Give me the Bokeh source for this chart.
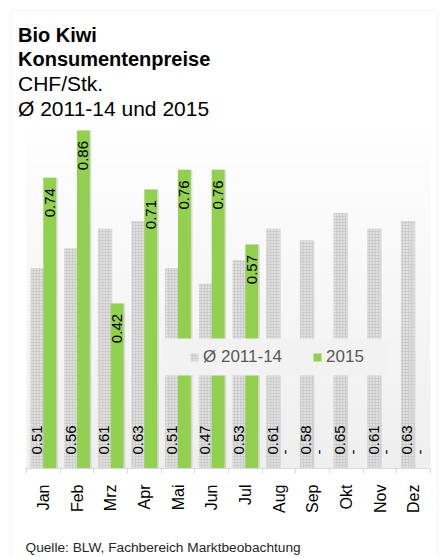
import numpy as np
from bokeh.plotting import figure
from bokeh.models import (ColumnDataSource, Range1d, FixedTicker, Label,
                          BoxAnnotation, Legend, LegendItem)
from bokeh.transform import dodge
from bokeh.core.properties import value
from bokeh.embed import file_html
from bokeh.resources import INLINE

# ---------------- data ----------------
months = ["Jan", "Feb", "Mrz", "Apr", "Mai", "Jun", "Jul", "Aug", "Sep", "Okt", "Nov", "Dez"]
avg_2011_14 = [0.51, 0.56, 0.61, 0.63, 0.51, 0.47, 0.53, 0.61, 0.58, 0.65, 0.61, 0.63]
prices_2015 = [0.74, 0.86, 0.42, 0.71, 0.76, 0.76, 0.57, None, None, None, None, None]
series_names = ["Ø 2011-14", "2015"]
title_lines = ["Bio Kiwi", "Konsumentenpreise", "CHF/Stk.", "Ø 2011-14 und 2015"]
source_note = "Quelle: BLW, Fachbereich Marktbeobachtung"

# ---------------- layout / styling ----------------
FONT = "Liberation Sans"
W, H = 441, 557
AX_LEFT, AX_RIGHT, AX_Y = 26, 430, 468       # pixel position of the category axis
PX_PER_UNIT = 393.0                           # vertical pixels per CHF
Y_TOP = 0.88                                  # top of plot area (CHF)
GREEN = "#92d050"
GRAY = "#cccccc"
OFF = 0.19
BW = 0.38

ncat = len(months)
px_per_cat = (AX_RIGHT - AX_LEFT) / ncat
x_start = -AX_LEFT / px_per_cat
x_end = ncat + (W - AX_RIGHT) / px_per_cat
y_start = -(H - AX_Y) / PX_PER_UNIT
y_end = AX_Y / PX_PER_UNIT

xs = [i + 0.5 for i in range(ncat)]
p15 = [np.nan if v is None else v for v in prices_2015]

src = ColumnDataSource(dict(
    x=xs, avg=avg_2011_14, p15=p15,
    avg_lbl=[f"{v:.2f}" for v in avg_2011_14],
))
top_src = ColumnDataSource(dict(
    x=[x for x, v in zip(xs, prices_2015) if v is not None],
    top=[v for v in prices_2015 if v is not None],
    lbl=[f"{v:.2f}" for v in prices_2015 if v is not None],
))
miss_src = ColumnDataSource(dict(
    x=[x for x, v in zip(xs, prices_2015) if v is None],
    lbl=["-" for v in prices_2015 if v is None],
))

p = figure(width=W, height=H, x_range=Range1d(x_start, x_end), y_range=Range1d(y_start, y_end),
           output_backend="svg", toolbar_location=None, y_axis_location=None,
           min_border=0, background_fill_color="white", border_fill_color="white",
           outline_line_color=None, title=None)
p.xgrid.visible = False
p.ygrid.visible = False

# plot-area gradient (white at top -> light gray at bottom)
n = 64
img = np.empty((n, 1), dtype=np.uint32)
view = img.view(dtype=np.uint8).reshape((n, 1, 4))
vals = np.linspace(239, 255, n).astype(np.uint8)
view[:, 0, 0] = vals
view[:, 0, 1] = vals
view[:, 0, 2] = vals
view[:, 0, 3] = 255
p.image_rgba(image=[img], x=0, y=0, dw=ncat, dh=Y_TOP)

# shadows
p.vbar(x=dodge("x", -OFF + 0.05), top="avg", width=BW, source=src,
       fill_color="black", fill_alpha=0.12, line_color=None)
p.vbar(x=dodge("x", OFF + 0.05), top="p15", width=BW, source=src,
       fill_color="black", fill_alpha=0.12, line_color=None)

gray_r = p.vbar(x=dodge("x", -OFF), top="avg", width=BW, source=src,
                fill_color=GRAY, line_color=None,
                hatch_pattern="dot", hatch_color="white", hatch_scale=3, hatch_weight=1)
green_r = p.vbar(x=dodge("x", OFF), top="p15", width=BW, source=src,
                 fill_color=GREEN, line_color=None)

# value labels
common = dict(angle=np.pi / 2, text_baseline="middle", text_font=value(FONT),
              text_font_size="15px", text_color="black")
p.text(x=dodge("x", -OFF), y=0, text="avg_lbl", source=src, text_align="left",
       y_offset=-14, **common)
p.text(x=dodge("x", OFF), y="top", text="lbl", source=top_src, text_align="right",
       y_offset=10.5, **common)
p.text(x=dodge("x", OFF), y=0, text="lbl", source=miss_src, text_align="left",
       y_offset=-14, **common)

# x axis, drawn at y = 0 inside the frame
ax = p.xaxis[0]
ax.fixed_location = 0
ax.bounds = (0, ncat)
ax.ticker = FixedTicker(ticks=xs, minor_ticks=list(range(ncat + 1)))
ax.major_label_overrides = {x: m for x, m in zip(xs, months)}
ax.major_label_orientation = np.pi / 2
ax.major_tick_out = 0
ax.major_tick_in = 0
ax.minor_tick_out = 5
ax.minor_tick_in = 0
ax.minor_tick_line_color = "#d9d9d9"
ax.axis_line_color = "#d9d9d9"
ax.major_label_standoff = 11
ax.major_label_text_font = FONT
ax.major_label_text_font_size = "16px"
ax.major_label_text_color = "black"

# legend background + legend (screen units relative to the frame's bottom-left)
p.add_layout(BoxAnnotation(left=162, right=387, bottom=H - 375, top=H - 338,
                           left_units="screen", right_units="screen",
                           top_units="screen", bottom_units="screen",
                           fill_color="#f2f2f2", fill_alpha=1, line_color=None))
legend = Legend(items=[LegendItem(label=series_names[0], renderers=[gray_r]),
                       LegendItem(label=series_names[1], renderers=[green_r])],
                orientation="horizontal", location=(189, H - 366.7), padding=0, margin=0,
                spacing=30, glyph_width=10, glyph_height=10, label_standoff=4,
                label_height=20, label_text_font=FONT, label_text_font_size="17px",
                label_text_color="#595959", background_fill_alpha=0,
                border_line_color=None)
p.add_layout(legend, "center")

# outer chart border
p.add_layout(BoxAnnotation(left=11, right=437, bottom=-30, top=H - 10,
                           left_units="screen", right_units="screen",
                           top_units="screen", bottom_units="screen",
                           fill_alpha=0, line_color="#d9d9d9", line_width=1))

# titles
baselines = [34, 58.5, 83, 108]
for i, (t, yy) in enumerate(zip(title_lines, baselines)):
    p.add_layout(Label(x=17.5, y=H - yy, x_units="screen", y_units="screen", text=t,
                       text_font=FONT, text_font_size="20px" if i < 2 else "21px",
                       text_font_style="bold" if i < 2 else "normal",
                       text_color="black", text_baseline="alphabetic", text_align="left"))

p.add_layout(Label(x=25, y=10, x_units="screen", y_units="screen", text=source_note,
                   text_font=FONT, text_font_size="13.7px", text_color="#262626",
                   text_baseline="alphabetic", text_align="left"))

open("out.html", "w").write(file_html(p, INLINE))
